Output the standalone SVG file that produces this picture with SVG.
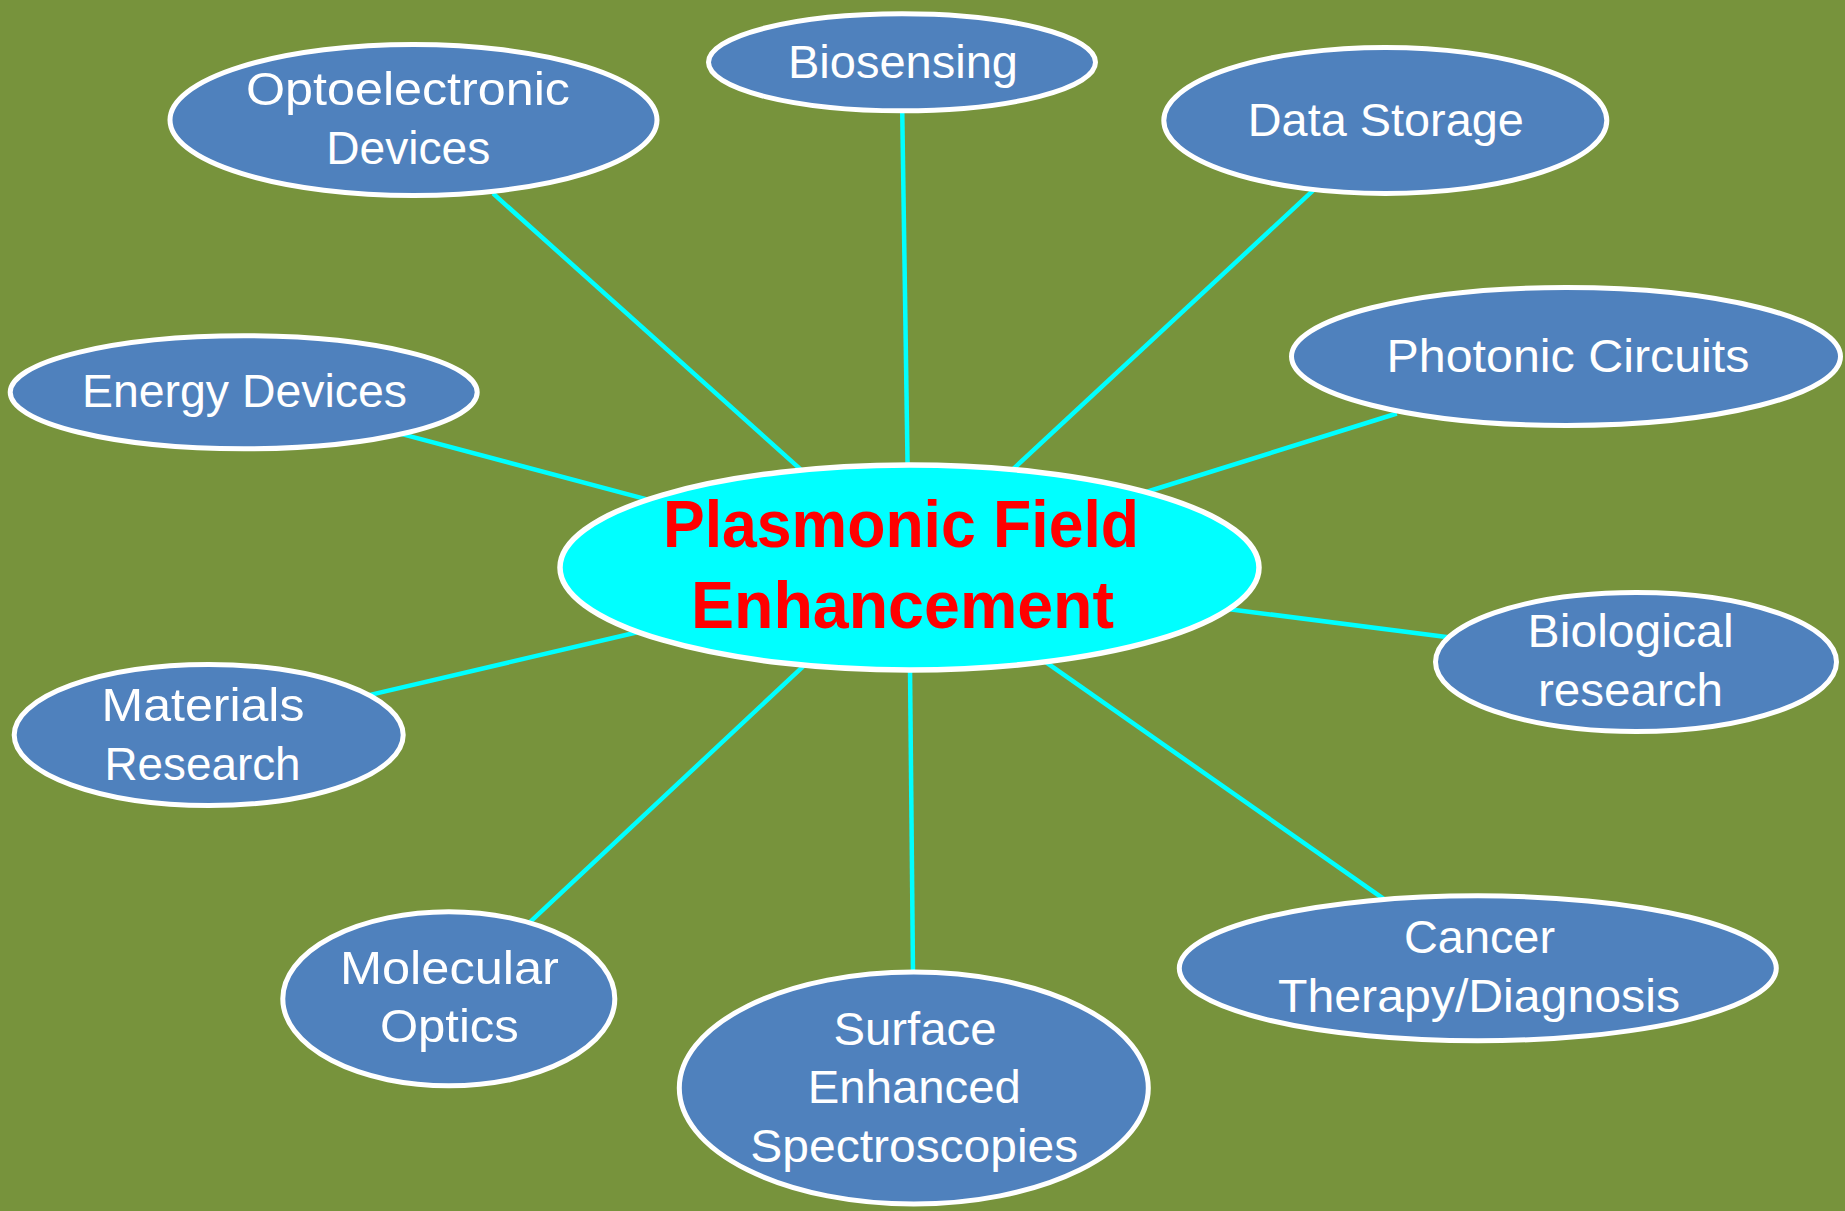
<svg xmlns="http://www.w3.org/2000/svg" width="1845" height="1211" viewBox="0 0 1845 1211">
  <style>
    .bg { fill: #77933C; }
    .link { stroke: #00FFFF; stroke-width: 4.5; fill: none; }
    .node ellipse { fill: #4F81BD; stroke: #FFFFFF; stroke-width: 5; }
    .node text { font-family: "Liberation Sans", Arial, sans-serif; font-size: 47px; fill: #FFFFFF; text-anchor: middle; }
    .hub ellipse { fill: #00FFFF; stroke: #FFFFFF; stroke-width: 5.5; }
    .hub text { font-family: "Liberation Sans", Arial, sans-serif; font-size: 67px; font-weight: bold; fill: #FF0000; text-anchor: middle; }
  </style>

  <rect class="bg" x="0" y="0" width="1845" height="1211"/>

  <!-- spokes from the hub to each application -->
  <g id="connectors">
    <line class="link" x1="493" y1="193.4" x2="802" y2="470.6"/>
    <line class="link" x1="902.2" y1="109" x2="907.6" y2="467"/>
    <line class="link" x1="1313.7" y1="189.9" x2="1012" y2="470.1"/>
    <line class="link" x1="1396.8" y1="413.5" x2="1144.5" y2="492.5"/>
    <line class="link" x1="400.2" y1="433.7" x2="651.5" y2="500.6"/>
    <line class="link" x1="368.1" y1="695.4" x2="641.6" y2="631.2"/>
    <line class="link" x1="1448.4" y1="637.3" x2="1225.7" y2="608.7"/>
    <line class="link" x1="529.4" y1="922.7" x2="805.3" y2="664.3"/>
    <line class="link" x1="913" y1="973" x2="910" y2="666.7"/>
    <line class="link" x1="1383.7" y1="898.9" x2="1042.6" y2="659.8"/>
  </g>

  <g id="hub" class="hub">
    <ellipse cx="909.5" cy="567.5" rx="349.5" ry="102.5"/>
    <text x="901" y="547" textLength="476" lengthAdjust="spacingAndGlyphs">Plasmonic Field</text>
    <text x="902.5" y="628" textLength="423" lengthAdjust="spacingAndGlyphs">Enhancement</text>
  </g>

  <g id="optoelectronic" class="node">
    <ellipse cx="413.5" cy="120" rx="243.5" ry="75.5"/>
    <text x="408" y="105" textLength="324" lengthAdjust="spacingAndGlyphs">Optoelectronic</text>
    <text x="408.3" y="163.5" textLength="164" lengthAdjust="spacingAndGlyphs">Devices</text>
  </g>

  <g id="biosensing" class="node">
    <ellipse cx="902" cy="62.3" rx="193.5" ry="48.5"/>
    <text x="903" y="77.5" textLength="230" lengthAdjust="spacingAndGlyphs">Biosensing</text>
  </g>

  <g id="data-storage" class="node">
    <ellipse cx="1385.3" cy="120.5" rx="221.5" ry="73"/>
    <text x="1385.8" y="136" textLength="276" lengthAdjust="spacingAndGlyphs">Data Storage</text>
  </g>

  <g id="photonic-circuits" class="node">
    <ellipse cx="1566" cy="356.5" rx="274.5" ry="69"/>
    <text x="1568" y="372" textLength="363" lengthAdjust="spacingAndGlyphs">Photonic Circuits</text>
  </g>

  <g id="energy-devices" class="node">
    <ellipse cx="243.7" cy="392.3" rx="233.5" ry="56.5"/>
    <text x="244.5" y="407" textLength="325" lengthAdjust="spacingAndGlyphs">Energy Devices</text>
  </g>

  <g id="materials-research" class="node">
    <ellipse cx="208.7" cy="735" rx="194.5" ry="70.5"/>
    <text x="203" y="720.7" textLength="203" lengthAdjust="spacingAndGlyphs">Materials</text>
    <text x="202.5" y="780" textLength="196" lengthAdjust="spacingAndGlyphs">Research</text>
  </g>

  <g id="biological-research" class="node">
    <ellipse cx="1636" cy="662" rx="200.5" ry="69.5"/>
    <text x="1630.6" y="646.7" textLength="206" lengthAdjust="spacingAndGlyphs">Biological</text>
    <text x="1630.5" y="706" textLength="185" lengthAdjust="spacingAndGlyphs">research</text>
  </g>

  <g id="molecular-optics" class="node">
    <ellipse cx="448.8" cy="998.8" rx="166" ry="87"/>
    <text x="449.4" y="984" textLength="219" lengthAdjust="spacingAndGlyphs">Molecular</text>
    <text x="449.4" y="1042" textLength="139" lengthAdjust="spacingAndGlyphs">Optics</text>
  </g>

  <g id="surface-enhanced-spectroscopies" class="node">
    <ellipse cx="913.8" cy="1088" rx="234.5" ry="116"/>
    <text x="915" y="1045" textLength="163" lengthAdjust="spacingAndGlyphs">Surface</text>
    <text x="914.3" y="1103.3" textLength="213" lengthAdjust="spacingAndGlyphs">Enhanced</text>
    <text x="914.3" y="1161.7" textLength="328" lengthAdjust="spacingAndGlyphs">Spectroscopies</text>
  </g>

  <g id="cancer-therapy" class="node">
    <ellipse cx="1477.8" cy="968.3" rx="298.5" ry="72.5"/>
    <text x="1479.5" y="952.7" textLength="151" lengthAdjust="spacingAndGlyphs">Cancer</text>
    <text x="1479" y="1011.7" textLength="402" lengthAdjust="spacingAndGlyphs">Therapy/Diagnosis</text>
  </g>
</svg>
